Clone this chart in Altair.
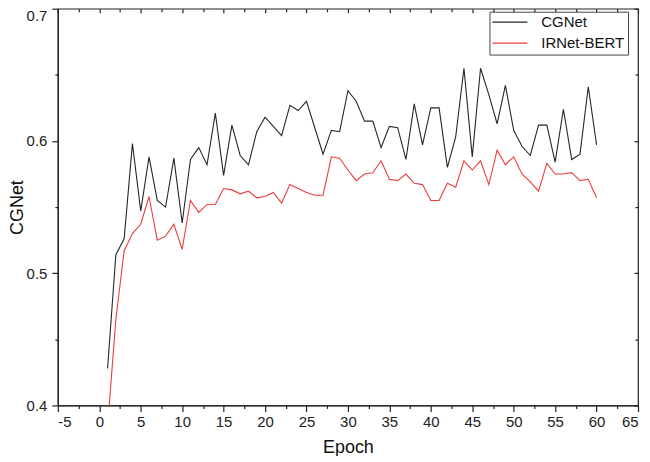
import altair as alt
import pandas as pd

epochs = list(range(1, 61))
cgnet = [0.428, 0.514, 0.526, 0.598, 0.547, 0.588, 0.555, 0.550, 0.587, 0.538,
         0.586, 0.595, 0.582, 0.621, 0.574, 0.612, 0.589, 0.582, 0.607, 0.618,
         0.611, 0.604, 0.627, 0.623, 0.630, 0.610, 0.590, 0.608, 0.607, 0.638,
         0.630, 0.615, 0.615, 0.595, 0.611, 0.610, 0.586, 0.628, 0.597, 0.625,
         0.625, 0.580, 0.603, 0.655, 0.588, 0.655, 0.635, 0.613, 0.642, 0.608,
         0.596, 0.589, 0.612, 0.612, 0.584, 0.624, 0.586, 0.590, 0.641, 0.597]
irnet = [0.384, 0.465, 0.517, 0.530, 0.537, 0.558, 0.525, 0.528, 0.537, 0.518,
         0.555, 0.546, 0.552, 0.552, 0.564, 0.563, 0.560, 0.562, 0.557, 0.558,
         0.561, 0.553, 0.567, 0.564, 0.561, 0.559, 0.559, 0.588, 0.587, 0.578,
         0.570, 0.575, 0.576, 0.585, 0.571, 0.570, 0.575, 0.568, 0.567, 0.555,
         0.555, 0.568, 0.565, 0.585, 0.578, 0.585, 0.567, 0.593, 0.582, 0.588,
         0.575, 0.569, 0.562, 0.583, 0.575, 0.575, 0.576, 0.570, 0.571, 0.557]
series = ["CGNet", "IRNet-BERT"]
colors = ["#262626", "#ee3b3b"]
x_ticks = [-5, -2.5, 0, 2.5, 5, 7.5, 10, 12.5, 15, 17.5, 20, 22.5, 25, 27.5, 30,
           32.5, 35, 37.5, 40, 42.5, 45, 47.5, 50, 52.5, 55, 57.5, 60, 62.5, 65]
y_ticks = [0.4, 0.45, 0.5, 0.55, 0.6, 0.65, 0.7]

df = pd.DataFrame({
    "Epoch": epochs + epochs,
    "Value": cgnet + irnet,
    "Model": [series[0]] * len(cgnet) + [series[1]] * len(irnet),
})

W, H = 582, 398
FONT = "Liberation Sans"
x_major = "abs(datum.value % 5) < 0.01"
y_major = "abs(datum.value * 10 - round(datum.value * 10)) < 0.01"

x_scale = alt.Scale(domain=[-5, 65], nice=False, zero=False)
y_scale = alt.Scale(domain=[0.4, 0.7], nice=False, zero=False)

x_axis = alt.Axis(
    values=x_ticks,
    labelExpr=f"{x_major} ? '' + datum.value : ''",
    tickSize={"condition": {"test": x_major, "value": 6}, "value": 3},
    labelPadding=3, titlePadding=9, grid=False,
)
y_axis = alt.Axis(
    values=y_ticks,
    labelExpr=f"{y_major} ? format(datum.value, '.1f') : ''",
    labelBaseline={"condition": {"test": "datum.value > 0.69", "value": "top"},
                   "value": "middle"},
    tickSize={"condition": {"test": y_major, "value": 6}, "value": 3},
    labelPadding=5, titleX=-31, titleY=H / 2, grid=False,
)

lines = alt.Chart(df).mark_line(clip=True, strokeWidth=1.1).encode(
    x=alt.X("Epoch:Q", scale=x_scale, axis=x_axis, title="Epoch"),
    y=alt.Y("Value:Q", scale=y_scale, axis=y_axis, title="CGNet"),
    color=alt.Color(
        "Model:N",
        scale=alt.Scale(domain=series, range=colors),
        legend=alt.Legend(
            title=None, orient="none", legendX=433, legendY=3,
            symbolType="M-2.7,0H2.7", symbolSize=169, symbolStrokeWidth=1.2,
            symbolOffset=10, labelOffset=24, rowPadding=5,
            labelFontSize=15, labelFont=FONT, labelColor="#111",
            strokeColor="#444", fillColor="white", padding=3,
        ),
    ),
)

frame = alt.Chart(df).mark_line(opacity=0).encode(
    x=alt.X("Epoch:Q", scale=x_scale, axis=alt.Axis(
        orient="bottom", offset=-H, labels=False, domain=False, title=None,
        values=x_ticks, grid=False,
        tickSize={"condition": {"test": x_major, "value": 4}, "value": 3})),
    y=alt.Y("Value:Q", scale=y_scale, axis=alt.Axis(
        orient="left", offset=-W, labels=False, domain=False, title=None,
        values=y_ticks, grid=False,
        tickSize={"condition": {"test": y_major, "value": 4}, "value": 3})),
)

chart = alt.layer(lines, frame).resolve_axis(
    x="independent", y="independent"
).properties(
    width=W, height=H,
    autosize=alt.AutoSizeParams(type="none"),
    padding={"left": 50, "top": 0, "right": 4, "bottom": 50},
).configure_view(
    stroke="#222", strokeWidth=1.2
).configure_axis(
    domainColor="#222", tickColor="#222", domainWidth=1.2, tickWidth=1.2,
    labelFont=FONT, labelFontSize=15, labelColor="#222",
    titleFont=FONT, titleFontSize=18, titleFontWeight="normal", titleColor="#111",
)

chart.save("out.html", embed_options={"renderer": "svg", "actions": False})
